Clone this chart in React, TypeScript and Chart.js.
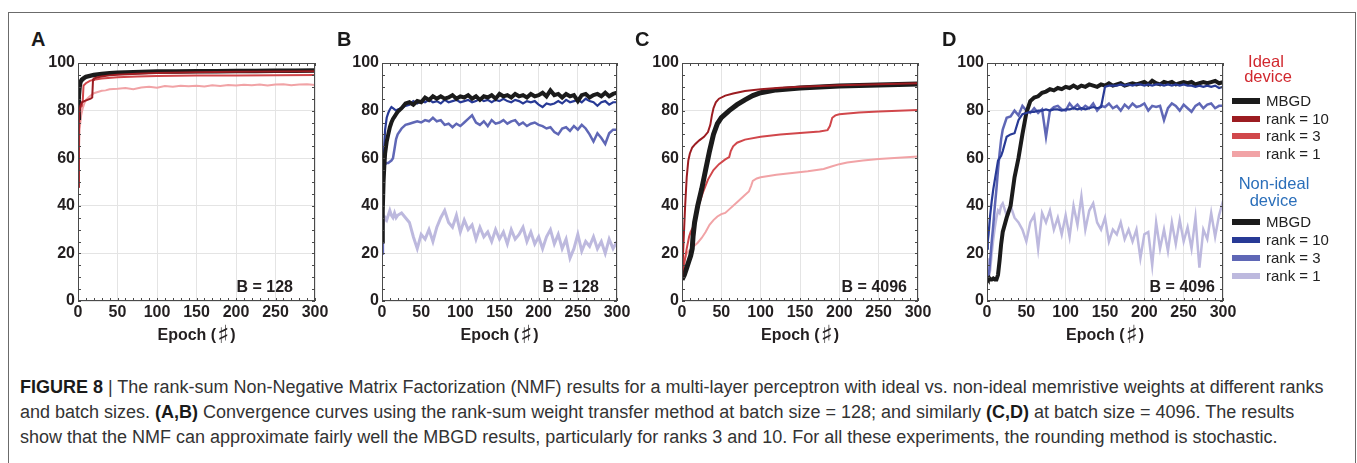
import { useEffect, useRef } from 'react';
import { Chart, registerables } from 'chart.js';

Chart.register(...registerables);

const FONT = '"Liberation Sans", Arial, Helvetica, sans-serif';

// ---------- DATA ----------
const X_TICKS = [0, 50, 100, 150, 200, 250, 300];
const Y_TICKS = [0, 20, 40, 60, 80, 100];
const X_TITLE = ['Epoch (', '♯', ')'];

// Shared epochs for the noisy curves (panels B and D)
const EP_N = [
  0, 1, 2, 3, 4, 6, 8, 10, 12, 14, 16, 18, 20,
  25, 30, 35, 40, 45, 50, 55, 60, 65, 70, 75, 80, 85, 90, 95, 100,
  105, 110, 115, 120, 125, 130, 135, 140, 145, 150, 155, 160, 165, 170, 175, 180, 185, 190, 195, 200,
  205, 210, 215, 220, 225, 230, 235, 240, 245, 250, 255, 260, 265, 270, 275, 280, 285, 290, 295, 300,
];

// Panel A (ideal, B = 128)
const A_MBGD_EP = [0, 1, 2, 3, 5, 8, 10, 15, 20, 30, 40, 50, 60, 80, 100, 125, 150, 175, 200, 225, 250, 275, 300];
const A_MBGD = [77, 86, 90, 92, 93, 93.8, 94.2, 94.6, 95, 95.4, 95.7, 95.9, 96, 96.2, 96.4, 96.4, 96.5, 96.5, 96.6, 96.6, 96.7, 96.7, 96.8];
const A_R10_EP = [0, 1, 2, 3, 5, 8, 12, 16, 18, 19, 20, 25, 30, 40, 50, 75, 100, 150, 200, 250, 300];
const A_R10 = [48, 75, 80, 82, 83.5, 84, 84.5, 85, 85.5, 93, 93.5, 94, 94.3, 94.8, 95.1, 95.5, 95.8, 96.1, 96.3, 96.4, 96.5];
const A_R3_EP = [0, 1, 2, 3, 4, 5, 6, 7, 10, 15, 20, 30, 50, 75, 100, 150, 200, 250, 300];
const A_R3 = [48, 70, 78, 81, 82, 83, 84, 90.5, 91.5, 92.5, 93, 93.5, 94, 94.3, 94.5, 94.7, 94.8, 94.9, 95];
const A_R1_EP = [0, 2, 4, 6, 8, 10, 15, 20, 25, 30, 35, 40, 50, 60, 70, 80, 90, 100, 110, 120, 130, 140, 150, 160, 170, 180, 190, 200, 210, 220, 230, 240, 250, 260, 270, 280, 290, 300];
const A_R1 = [48, 72, 78, 81, 83, 84.5, 86, 87.3, 87.8, 88.3, 88.5, 89, 89.2, 89.5, 89, 89.7, 90, 89.6, 90.3, 90, 90.4, 90.2, 90.4, 90.1, 90.6, 90.3, 90.8, 90.5, 90.9, 90.7, 91, 90.6, 91, 91.1, 90.7, 91, 91.1, 90.8];

// Panel B (non-ideal, B = 128)
const B_MBGD = [
  25, 38, 50, 57, 62, 67, 70, 73, 75, 76.5, 77.5, 78.5, 79.5,
  81, 83, 83.5, 82.5, 84, 83.5, 85.5, 84.5, 86, 85, 86, 85, 85.5, 86.5, 85, 86,
  85.5, 86.5, 85, 86, 84.5, 86, 85.5, 86.5, 85, 87, 86, 86.5, 85.5, 87, 86, 86.5, 85.5, 87, 86, 86.5,
  87.5, 86, 88.5, 86.5, 87, 85.5, 87, 86, 86.5, 84, 86.5, 87, 85.5, 86.5, 87, 86, 87.5, 86, 87, 87.5,
];
const B_R10 = [
  25, 45, 57, 66, 72, 77, 79, 80.5, 81.5, 81, 80.5, 80, 80.5,
  81, 82, 82.5, 84, 83, 84, 83.5, 84.5, 83.5, 84, 83, 84.5, 83.5, 84, 84.5, 83.5,
  84, 84.5, 83.5, 84, 85, 84, 84.5, 83.5, 84.5, 84, 85, 84, 83.5, 84.5, 84, 83, 84, 83.5, 84, 82.5,
  81.5, 83, 82.5, 83, 84, 83, 84.5, 83.5, 84, 84.5, 83.5, 85, 84, 83.5, 82, 83.5, 84, 82.5, 83.5, 83.5,
];
const B_R3 = [
  20, 40, 56, 57, 57.5, 58, 58, 58.5, 59, 60, 64, 68, 70,
  72.5, 74, 74.5, 75, 75.5, 75, 76, 75.5, 77, 75.5, 76, 74, 74.5, 73, 74.5, 73.5,
  75, 76.5, 78, 75, 74, 75.5, 73.5, 76, 74.5, 75, 76, 74.5, 75.5, 76, 74, 75, 73.5, 74.5, 75, 74,
  73.5, 72.5, 73, 71, 70, 72.5, 73, 71.5, 73.5, 72, 74, 72.5, 70, 67, 70.5, 68.5, 66, 70.5, 72, 72,
];
const B_R1 = [
  20, 30, 33, 34, 35, 34, 36, 38, 36, 35, 37, 35, 36,
  37, 35, 33, 27, 22, 28, 26, 30, 25, 31, 35, 38, 33, 31, 36, 29,
  34, 30, 32, 26, 31, 27, 29, 25, 30, 26, 29, 24, 30, 26, 28, 31, 25, 29, 24, 27,
  22, 27, 30, 24, 28, 22, 26, 18, 22, 28, 21, 25, 23, 27, 22, 25, 20, 26, 22, 25,
];

// Panel C (ideal, B = 4096)
const C_MBGD_EP = [0, 3, 6, 9, 11, 13, 14, 16, 20, 25, 30, 35, 40, 45, 50, 60, 70, 80, 90, 100, 120, 150, 200, 250, 300];
const C_MBGD = [9, 11, 14, 17, 19, 22, 27, 33, 40, 47, 55, 63, 70, 74.5, 77, 80, 82.5, 84.5, 86.3, 87.5, 88.7, 89.5, 90.3, 90.8, 91.2];
const C_R10_EP = [0, 2, 4, 6, 8, 10, 13, 17, 22, 28, 33, 36, 38, 40, 43, 47, 55, 65, 80, 100, 125, 150, 200, 250, 300];
const C_R10 = [9, 25, 40, 52, 59, 62, 64.5, 66, 67.5, 69, 71, 74, 78, 81, 83.5, 85, 86.3, 87.2, 88.2, 89, 89.6, 90, 90.6, 91.1, 91.5];
const C_R3_EP = [0, 3, 6, 9, 11, 14, 18, 22, 27, 33, 40, 47, 55, 60, 62, 65, 70, 80, 100, 125, 150, 175, 185, 188, 191, 195, 200, 225, 250, 275, 300];
const C_R3 = [9, 16, 22, 27, 29, 31, 36, 41, 46, 51, 55, 57.5, 59.5, 60.5, 63, 65, 66.5, 67.8, 69, 70, 70.6, 71.2, 71.8, 73.5, 77, 78, 78.5, 79.2, 79.6, 79.9, 80.2];
const C_R1_EP = [0, 3, 6, 10, 15, 20, 25, 30, 35, 40, 45, 50, 55, 60, 70, 80, 85, 88, 90, 95, 100, 120, 140, 160, 180, 190, 200, 210, 230, 250, 275, 300];
const C_R1 = [9, 17, 20, 21.5, 23, 24.5, 26.5, 29, 32, 34, 35.5, 36.5, 37, 38.5, 41.5, 44.5, 46, 48.5, 50.5, 51.5, 52, 53, 53.8, 54.5, 55.5, 56.5, 57.5, 58.2, 59, 59.7, 60.2, 60.7];

// Panel D (non-ideal, B = 4096)
const D_MBGD = [
  10, 9.5, 9, 9.5, 9, 9, 9.5, 9, 9, 11, 17, 24, 29,
  35, 40, 52, 60, 70, 79, 84, 85.5, 86, 87.5, 88, 89, 88.5, 89.5, 89, 90,
  89.5, 90.5, 89.5, 90.5, 90, 91, 90.5, 90, 91, 90.5, 91.5, 90.5, 91, 91.5, 90.5, 91, 91.5, 91, 91.5, 92,
  91, 92.5, 91.5, 91, 92, 91.5, 92, 91, 91.5, 92, 91.5, 92, 91, 91.5, 92, 91.5, 92, 92.5, 91.5, 92,
];
const D_R10 = [
  22, 25, 28, 32, 36, 42, 47, 51, 55, 59, 60, 61, 63,
  69, 70, 70.5, 76, 78.5, 79, 79.5, 79.5, 80, 80, 80.5, 80, 80.5, 80.5, 80, 80.5,
  80.5, 81, 80.5, 81, 80.5, 81, 81.5, 81, 81.5, 90, 90.5, 90.5, 90.5, 91, 90.5, 91, 90.5, 91, 91, 90.5,
  91, 90.5, 91, 91, 90.5, 91, 90.5, 91, 90.5, 91, 90.5, 90.5, 90, 90.5, 90, 90.5, 90, 90.5, 89.5, 90,
];
const D_R3 = [
  10, 10, 11, 13, 17, 25, 32, 40, 47, 55, 62, 68, 72,
  77, 77.5, 80, 78, 82, 80, 79, 81, 79, 80.5, 69, 80, 81.5, 82, 80.5, 80,
  83, 81, 82.5, 80.5, 82, 81, 83, 80, 82, 81.5, 83, 81, 82, 80, 82.5, 81, 83, 81.5, 82, 83,
  80, 82, 81.5, 82, 76, 81, 83, 82, 80, 82.5, 81, 79.5, 82, 83, 81, 82.5, 83, 81, 82, 82,
];
const D_R1 = [
  18, 14, 10, 11, 13, 20, 26, 31, 35, 38, 37, 40, 41,
  36, 40, 35, 33, 30, 25, 33, 36, 22, 37, 33, 38, 30, 35, 28, 36,
  27, 40, 32, 44, 30, 38, 41, 33, 30, 35, 25, 30, 28, 33, 26, 30, 25, 30, 18, 28,
  29, 15, 33, 22, 30, 21, 33, 24, 34, 25, 31, 22, 35, 14, 30, 26, 37, 27, 36, 42,
];

// ---------- STYLE / LAYOUT ----------
const C_BLACK = '#1b1b1b';
const C_RED10 = '#9c1c21';
const C_RED3 = '#d1474b';
const C_RED1 = '#f1a3a6';
const C_BLUE10 = '#283a96';
const C_BLUE3 = '#5f67b6';
const C_BLUE1 = '#bdb9de';

const PANELS = [
  {
    letter: 'A', letterX: 31, rect: [78, 63, 315, 301], note: 'B = 128', inset: 22,
    series: [
      { label: 'rank = 10', ep: A_R10_EP, v: A_R10, color: C_RED10, w: 2 },
      { label: 'MBGD', ep: A_MBGD_EP, v: A_MBGD, color: C_BLACK, w: 4.5 },
      { label: 'rank = 3', ep: A_R3_EP, v: A_R3, color: C_RED3, w: 2 },
      { label: 'rank = 1', ep: A_R1_EP, v: A_R1, color: C_RED1, w: 2 },
    ],
  },
  {
    letter: 'B', letterX: 337, rect: [382, 63, 617, 301], note: 'B = 128', inset: 18,
    series: [
      { label: 'MBGD', ep: EP_N, v: B_MBGD, color: C_BLACK, w: 4 },
      { label: 'rank = 10', ep: EP_N, v: B_R10, color: C_BLUE10, w: 2.2 },
      { label: 'rank = 3', ep: EP_N, v: B_R3, color: C_BLUE3, w: 2.5 },
      { label: 'rank = 1', ep: EP_N, v: B_R1, color: C_BLUE1, w: 3 },
    ],
  },
  {
    letter: 'C', letterX: 635, rect: [682, 63, 918, 301], note: 'B = 4096', inset: 11,
    series: [
      { label: 'rank = 10', ep: C_R10_EP, v: C_R10, color: C_RED10, w: 2 },
      { label: 'MBGD', ep: C_MBGD_EP, v: C_MBGD, color: C_BLACK, w: 5 },
      { label: 'rank = 3', ep: C_R3_EP, v: C_R3, color: C_RED3, w: 2 },
      { label: 'rank = 1', ep: C_R1_EP, v: C_R1, color: C_RED1, w: 2 },
    ],
  },
  {
    letter: 'D', letterX: 942, rect: [987, 63, 1223, 301], note: 'B = 4096', inset: 8,
    series: [
      { label: 'rank = 10', ep: EP_N, v: D_R10, color: C_BLUE10, w: 2.2 },
      { label: 'MBGD', ep: EP_N, v: D_MBGD, color: C_BLACK, w: 4 },
      { label: 'rank = 3', ep: EP_N, v: D_R3, color: C_BLUE3, w: 2.5 },
      { label: 'rank = 1', ep: EP_N, v: D_R1, color: C_BLUE1, w: 2.5 },
    ],
  },
];

const PAD_L = 60, PAD_T = 15, PAD_R = 25, PAD_B = 55;

const framePlugin = {
  id: 'frame',
  afterDatasetsDraw(chart: any, _args: any, opts: any) {
    const { ctx, chartArea: a, scales } = chart;
    const x = scales.x, y = scales.y;
    ctx.save();
    ctx.strokeStyle = '#4a4a4a';
    ctx.lineWidth = 1;
    ctx.strokeRect(a.left + 0.5, a.top + 0.5, a.right - a.left - 1, a.bottom - a.top - 1);
    ctx.beginPath();
    for (let v = 0; v <= 300; v += 10) {
      const px = Math.round(x.getPixelForValue(v)) + 0.5;
      ctx.moveTo(px, a.bottom); ctx.lineTo(px, a.bottom - 3);
      ctx.moveTo(px, a.top); ctx.lineTo(px, a.top + 3);
    }
    for (let v = 0; v <= 100; v += 5) {
      const py = Math.round(y.getPixelForValue(v)) + 0.5;
      ctx.moveTo(a.left, py); ctx.lineTo(a.left + 3, py);
      ctx.moveTo(a.right, py); ctx.lineTo(a.right - 3, py);
    }
    ctx.stroke();
    ctx.fillStyle = '#231f20';
    ctx.textBaseline = 'middle';
    // annotation
    ctx.font = `bold 16px ${FONT}`;
    ctx.textAlign = 'right';
    ctx.fillText(opts.note, a.right - opts.inset, a.bottom - 13);
    // x-axis title with a larger sharp sign
    ctx.textAlign = 'left';
    const fMain = `bold 16px ${FONT}`;
    const fSharp = `bold 25px "DejaVu Sans", sans-serif`;
    ctx.font = fMain;
    const w1 = ctx.measureText(X_TITLE[0]).width;
    const w3 = ctx.measureText(X_TITLE[2]).width;
    ctx.font = fSharp;
    const w2 = ctx.measureText(X_TITLE[1]).width;
    const total = w1 + w2 + w3 + 2;
    let cx = (a.left + a.right) / 2 - total / 2;
    const ty = a.bottom + 35;
    ctx.font = fMain;
    ctx.fillText(X_TITLE[0], cx, ty);
    cx += w1 + 1;
    ctx.font = fSharp;
    ctx.fillText(X_TITLE[1], cx, ty);
    cx += w2 + 1;
    ctx.font = fMain;
    ctx.fillText(X_TITLE[2], cx, ty);
    ctx.restore();
  },
};

function Panel({ panel }: { panel: any }) {
  const ref = useRef<HTMLCanvasElement | null>(null);
  const [L, T, R, B] = panel.rect;
  const W = R - L + PAD_L + PAD_R;
  const H = B - T + PAD_T + PAD_B;
  useEffect(() => {
    const tickFont = { family: FONT, size: 16, weight: 'bold' as const };
    const chart = new Chart(ref.current as HTMLCanvasElement, {
      type: 'line',
      data: {
        datasets: panel.series.map((s: any) => ({
          label: s.label,
          data: s.ep.map((e: number, i: number) => ({ x: e, y: s.v[i] })),
          borderColor: s.color,
          backgroundColor: s.color,
          borderWidth: s.w,
          pointRadius: 0,
          tension: 0,
          fill: false,
        })),
      },
      options: {
        animation: false,
        responsive: false,
        devicePixelRatio: 1,
        layout: { padding: { left: 0, top: PAD_T, right: PAD_R, bottom: 0 } },
        plugins: {
          legend: { display: false },
          tooltip: { enabled: false },
          frame: { note: panel.note, inset: panel.inset },
        } as any,
        scales: {
          x: {
            type: 'linear',
            min: 0,
            max: 300,
            afterBuildTicks: (s: any) => { s.ticks = X_TICKS.map((v) => ({ value: v })); },
            afterFit: (s: any) => { s.height = PAD_B; },
            ticks: { padding: 2, color: '#231f20', font: tickFont, maxRotation: 0, autoSkip: false },
            grid: { color: '#e4e4e4', drawTicks: false },
            border: { display: false },
            title: { display: false },
          },
          y: {
            type: 'linear',
            min: 0,
            max: 100,
            afterBuildTicks: (s: any) => { s.ticks = Y_TICKS.map((v) => ({ value: v })); },
            afterFit: (s: any) => { s.width = PAD_L; },
            ticks: { padding: 3, color: '#231f20', font: tickFont },
            grid: { color: '#e4e4e4', drawTicks: false },
            border: { display: false },
          },
        },
      },
      plugins: [framePlugin],
    } as any);
    return () => chart.destroy();
  }, []);
  return (
    <>
      <div
        style={{
          position: 'absolute', left: panel.letterX, top: 28, font: `bold 20px ${FONT}`,
          color: '#1a1a1a', lineHeight: '22px',
        }}
      >
        {panel.letter}
      </div>
      <canvas
        ref={ref}
        width={W}
        height={H}
        style={{ position: 'absolute', left: L - PAD_L, top: T - PAD_T, width: W, height: H }}
      />
    </>
  );
}

const IDEAL_LEGEND = [
  { label: 'MBGD', color: C_BLACK, y: 101 },
  { label: 'rank = 10', color: C_RED10, y: 118.5 },
  { label: 'rank = 3', color: C_RED3, y: 136 },
  { label: 'rank = 1', color: C_RED1, y: 153.5 },
];
const NONIDEAL_LEGEND = [
  { label: 'MBGD', color: C_BLACK, y: 222 },
  { label: 'rank = 10', color: C_BLUE10, y: 240 },
  { label: 'rank = 3', color: C_BLUE3, y: 258 },
  { label: 'rank = 1', color: C_BLUE1, y: 276 },
];

function LegendRow({ item }: { item: any }) {
  return (
    <>
      <div style={{ position: 'absolute', left: 1232, top: item.y - 3, width: 28, height: 6, background: item.color }} />
      <div
        style={{
          position: 'absolute', left: 1266, top: item.y - 9, height: 18, lineHeight: '18px',
          font: `15px ${FONT}`, color: '#222', whiteSpace: 'nowrap',
        }}
      >
        {item.label}
      </div>
    </>
  );
}

function Heading({ text, cx, cy, color }: any) {
  return (
    <div
      style={{
        position: 'absolute', left: cx - 60, width: 120, top: cy - 10, height: 20, lineHeight: '20px',
        textAlign: 'center', font: `16.5px ${FONT}`, color,
      }}
    >
      {text}
    </div>
  );
}

export default function App() {
  useEffect(() => {
    document.body.style.overflow = 'hidden';
  }, []);
  const cap = { position: 'absolute' as const, left: 20, height: 24, lineHeight: '24px', font: `18px ${FONT}`, color: '#333', whiteSpace: 'nowrap' as const };
  const bold = { fontWeight: 'bold' as const, color: '#1a1a1a' };
  return (
    <div style={{ position: 'absolute', left: 0, top: 0, width: 1357, height: 463, background: '#fff', overflow: 'hidden' }}>
      <div
        style={{
          position: 'absolute', left: 8, top: 12, width: 1348, height: 460, boxSizing: 'border-box',
          border: '1px solid #6b6b6b',
        }}
      />
      {PANELS.map((p) => (
        <Panel key={p.letter} panel={p} />
      ))}
      <Heading text="Ideal" cx={1266} cy={61.5} color="#d1282e" />
      <Heading text="device" cx={1268} cy={77} color="#d1282e" />
      {IDEAL_LEGEND.map((it) => <LegendRow key={'i' + it.label} item={it} />)}
      <Heading text="Non-ideal" cx={1274} cy={183.5} color="#2b6fba" />
      <Heading text="device" cx={1273.5} cy={201} color="#2b6fba" />
      {NONIDEAL_LEGEND.map((it) => <LegendRow key={'n' + it.label} item={it} />)}
      <div style={{ ...cap, top: 377 }}>
        <span style={bold}>FIGURE 8</span> | The rank-sum Non-Negative Matrix Factorization (NMF) results for a multi-layer perceptron with ideal vs. non-ideal memristive weights at different ranks
      </div>
      <div style={{ ...cap, top: 402 }}>
        and batch sizes. <span style={bold}>(A,B)</span> Convergence curves using the rank-sum weight transfer method at batch size = 128; and similarly <span style={bold}>(C,D)</span> at batch size = 4096. The results
      </div>
      <div style={{ ...cap, top: 427 }}>
        show that the NMF can approximate fairly well the MBGD results, particularly for ranks 3 and 10. For all these experiments, the rounding method is stochastic.
      </div>
    </div>
  );
}
